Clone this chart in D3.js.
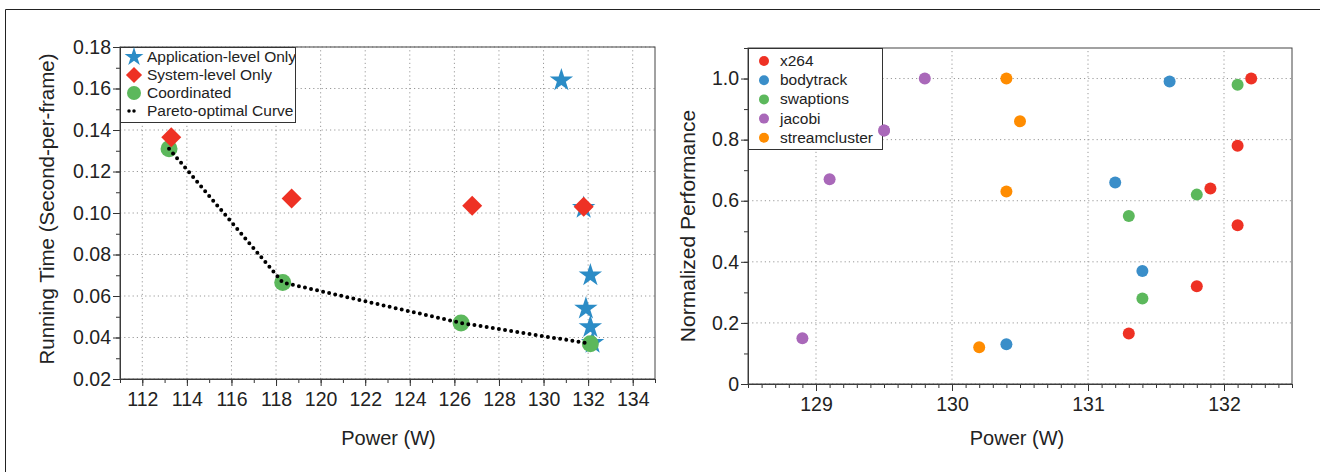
<!DOCTYPE html>
<html>
<head>
<meta charset="utf-8">
<script src="https://cdn.jsdelivr.net/npm/d3@7"></script>
<style>
  body { margin: 0; background: #fff; }
  svg { display: block; font-family: "Liberation Sans", Arial, sans-serif; }
  .tick text { font-size: 19.5px; fill: #222; }
  .grid line { stroke: #999; stroke-dasharray: 1.2,3; }
</style>
</head>
<body>
<script>
// ---- left chart data ----
var appPower = [130.8, 132.1, 131.9, 132.1, 131.8, 132.2];
var appTime = [0.164, 0.070, 0.054, 0.045, 0.1025, 0.0375];
var sysPower = [113.3, 118.7, 126.8, 131.8];
var sysTime = [0.1365, 0.107, 0.1035, 0.103];
var coordPower = [113.2, 118.3, 126.3, 132.1];
var coordTime = [0.131, 0.0665, 0.047, 0.037];
var leftXTicks = [112, 114, 116, 118, 120, 122, 124, 126, 128, 130, 132, 134];
var leftYTicks = [0.02, 0.04, 0.06, 0.08, 0.10, 0.12, 0.14, 0.16, 0.18];

// ---- right chart data ----
var benchmarks = ["x264", "bodytrack", "swaptions", "jacobi", "streamcluster"];
var benchColors = ["#ee3124", "#3a8ec9", "#5cb85c", "#a968b9", "#ff8c00"];
var x264Power = [132.2, 132.1, 131.9, 132.1, 131.8, 131.3];
var x264Perf = [1.0, 0.78, 0.64, 0.52, 0.32, 0.165];
var bodyPower = [131.6, 131.2, 131.4, 130.4];
var bodyPerf = [0.99, 0.66, 0.37, 0.13];
var swapPower = [132.1, 131.8, 131.3, 131.4];
var swapPerf = [0.98, 0.62, 0.55, 0.28];
var jacobiPower = [129.8, 129.5, 129.1, 128.9];
var jacobiPerf = [1.0, 0.83, 0.67, 0.15];
var streamPower = [130.4, 130.5, 130.4, 130.2];
var streamPerf = [1.0, 0.86, 0.63, 0.12];
var rightXTicks = [129, 130, 131, 132];
var rightYTicks = [0, 0.2, 0.4, 0.6, 0.8, 1.0];

var svg = d3.select("body").append("svg")
    .attr("width", 1320)
    .attr("height", 472);

// outer frame
svg.append("path")
    .attr("d", "M5.5,472 L5.5,9.5 L1320,9.5")
    .attr("fill", "none")
    .attr("stroke", "#222")
    .attr("stroke-width", 1);

function zip(xs, ys) {
    return xs.map(function (x, i) { return {x: x, y: ys[i]}; });
}

function range(a, b, step) {
    var out = [];
    for (var v = a; v <= b + 1e-9; v += step) out.push(+v.toFixed(4));
    return out;
}

function drawFrame(g, x, y, xMajor, xMinor, yMajor, yMinor, xFmt, yFmt) {
    var x0 = x.range()[0], x1 = x.range()[1], y0 = y.range()[0], y1 = y.range()[1];
    var grid = g.append("g").attr("class", "grid");
    grid.selectAll(".gx").data(xMajor).enter().append("line")
        .attr("x1", function (d) { return x(d); }).attr("x2", function (d) { return x(d); })
        .attr("y1", y0).attr("y2", y1);
    grid.selectAll(".gy").data(yMajor).enter().append("line")
        .attr("y1", function (d) { return y(d); }).attr("y2", function (d) { return y(d); })
        .attr("x1", x0).attr("x2", x1);

    // minor ticks
    g.append("g").attr("transform", "translate(0," + y0 + ")")
        .call(d3.axisBottom(x).tickValues(xMinor).tickSize(4).tickFormat(""))
        .call(function (s) { s.select(".domain").remove(); });
    g.append("g").attr("transform", "translate(" + x0 + ",0)")
        .call(d3.axisLeft(y).tickValues(yMinor).tickSize(4).tickFormat(""))
        .call(function (s) { s.select(".domain").remove(); });

    g.append("g").attr("transform", "translate(0," + y0 + ")")
        .call(d3.axisBottom(x).tickValues(xMajor).tickSize(7).tickSizeOuter(0).tickPadding(6).tickFormat(xFmt));
    g.append("g").attr("transform", "translate(" + x0 + ",0)")
        .call(d3.axisLeft(y).tickValues(yMajor).tickSize(7).tickSizeOuter(0).tickPadding(2).tickFormat(yFmt));

    g.selectAll(".domain").attr("stroke", "#333");
    g.selectAll(".tick line").attr("stroke", "#333");

    g.append("rect")
        .attr("x", x0).attr("y", y1)
        .attr("width", x1 - x0).attr("height", y0 - y1)
        .attr("fill", "none").attr("stroke", "#444").attr("stroke-width", 1);
}

// ================= LEFT CHART =================
var lx = d3.scaleLinear().domain([111, 135]).range([120, 655]);
var ly = d3.scaleLinear().domain([0.02, 0.18]).range([379, 47]);
var gl = svg.append("g");

drawFrame(gl, lx, ly, leftXTicks, range(111, 135, 1), leftYTicks, range(0.02, 0.18, 0.01),
    d3.format("d"), d3.format(".2f"));

var pareto = d3.line()
    .x(function (d) { return lx(d.x); })
    .y(function (d) { return ly(d.y); });

var star = d3.symbol().type(d3.symbolStar).size(170);
var diamond = d3.symbol().type(d3.symbolSquare).size(200);

gl.selectAll(".app").data(zip(appPower, appTime)).enter().append("path")
    .attr("d", star)
    .attr("transform", function (d) { return "translate(" + lx(d.x) + "," + ly(d.y) + ")"; })
    .attr("fill", "#2b8cc6");

gl.selectAll(".coord").data(zip(coordPower, coordTime)).enter().append("circle")
    .attr("cx", function (d) { return lx(d.x); })
    .attr("cy", function (d) { return ly(d.y); })
    .attr("r", 8.5)
    .attr("fill", "#5cb85c");

gl.selectAll(".sys").data(zip(sysPower, sysTime)).enter().append("path")
    .attr("d", diamond)
    .attr("transform", function (d) { return "translate(" + lx(d.x) + "," + ly(d.y) + ") rotate(45)"; })
    .attr("fill", "#ee3124");

gl.append("path")
    .datum(zip(coordPower, coordTime))
    .attr("d", pareto)
    .attr("fill", "none")
    .attr("stroke", "#000")
    .attr("stroke-width", 4)
    .attr("stroke-linecap", "round")
    .attr("stroke-dasharray", "0,6.2");

// left legend
var legL = gl.append("g");
svg.append("clipPath").attr("id", "legclip")
    .append("rect").attr("x", 120).attr("y", 47).attr("width", 175).attr("height", 76);
legL.append("rect").attr("x", 120.5).attr("y", 47.5).attr("width", 175).attr("height", 75)
    .attr("fill", "#fff").attr("stroke", "#333");
var legItems = ["Application-level Only", "System-level Only", "Coordinated", "Pareto-optimal Curve"];
var legG = legL.append("g").attr("clip-path", "url(#legclip)");
legItems.forEach(function (t, i) {
    var cy = 57 + i * 18;
    if (i === 0) legG.append("path").attr("d", d3.symbol().type(d3.symbolStar).size(110))
        .attr("transform", "translate(134," + cy + ")").attr("fill", "#2b8cc6");
    if (i === 1) legG.append("path").attr("d", d3.symbol().type(d3.symbolSquare).size(130))
        .attr("transform", "translate(134," + cy + ") rotate(45)").attr("fill", "#ee3124");
    if (i === 2) legG.append("circle").attr("cx", 134).attr("cy", cy).attr("r", 7).attr("fill", "#5cb85c");
    if (i === 3) legG.append("line").attr("x1", 129).attr("x2", 139).attr("y1", cy).attr("y2", cy)
        .attr("stroke", "#000").attr("stroke-width", 3.5).attr("stroke-linecap", "round")
        .attr("stroke-dasharray", "0,5");
    legG.append("text").attr("x", 147).attr("y", cy + 5).text(t)
        .attr("font-size", 15.5).attr("fill", "#222");
});

gl.append("text").attr("x", (120 + 655) / 2 + 1).attr("y", 445).attr("text-anchor", "middle")
    .attr("font-size", 20).attr("fill", "#222").text("Power (W)");
gl.append("text").attr("transform", "translate(54,209) rotate(-90)").attr("text-anchor", "middle")
    .attr("font-size", 20.5).attr("fill", "#222").text("Running Time (Second-per-frame)");

// ================= RIGHT CHART =================
var rx = d3.scaleLinear().domain([128.5, 132.5]).range([748, 1292]);
var ry = d3.scaleLinear().domain([0, 1.1]).range([384, 48]);
var gr = svg.append("g");

drawFrame(gr, rx, ry, rightXTicks, range(128.5, 132.5, 0.1), rightYTicks, range(0, 1.1, 0.1),
    d3.format("d"), function (d) { return d === 0 ? "0" : d3.format(".1f")(d); });

var series = [
    zip(x264Power, x264Perf),
    zip(bodyPower, bodyPerf),
    zip(swapPower, swapPerf),
    zip(jacobiPower, jacobiPerf),
    zip(streamPower, streamPerf)
];
series.forEach(function (s, i) {
    gr.selectAll(".s" + i).data(s).enter().append("circle")
        .attr("cx", function (d) { return rx(d.x); })
        .attr("cy", function (d) { return ry(d.y); })
        .attr("r", 6)
        .attr("fill", benchColors[i]);
});

var legR = gr.append("g");
legR.append("rect").attr("x", 748.5).attr("y", 48.5).attr("width", 134).attr("height", 101)
    .attr("fill", "#fff").attr("stroke", "#333");
benchmarks.forEach(function (b, i) {
    var cy = 61 + i * 19.2;
    legR.append("circle").attr("cx", 764).attr("cy", cy).attr("r", 5).attr("fill", benchColors[i]);
    legR.append("text").attr("x", 780).attr("y", cy + 5).text(b)
        .attr("font-size", 15.5).attr("fill", "#222");
});
// jacobi point overlapping legend edge drawn on top
gr.append("circle").attr("cx", rx(jacobiPower[1])).attr("cy", ry(jacobiPerf[1])).attr("r", 6).attr("fill", benchColors[3]);

gr.append("text").attr("x", (748 + 1292) / 2 - 3).attr("y", 445).attr("text-anchor", "middle")
    .attr("font-size", 20).attr("fill", "#222").text("Power (W)");
gr.append("text").attr("transform", "translate(695,226) rotate(-90)").attr("text-anchor", "middle")
    .attr("font-size", 21).attr("fill", "#222").text("Normalized Performance");
</script>
</body>
</html>
